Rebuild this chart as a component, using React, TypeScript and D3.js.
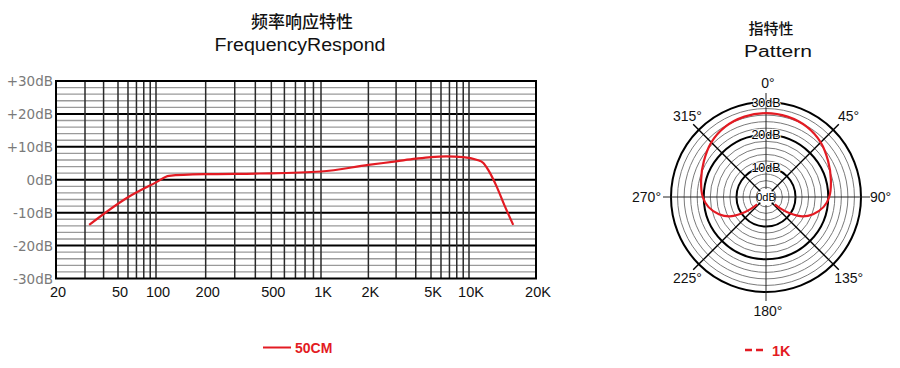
import * as d3 from 'd3';
import { useRef, useEffect } from 'react';

// frequency response (50CM)
const respFreq = [32, 60, 100, 120, 200, 425, 1000, 2000, 3000, 4000, 5000, 6600, 9000, 10800, 11600, 12200, 13300, 14500, 15800];
const respDb = [-13.7, -5.3, -0.8, 1.2, 1.7, 1.9, 2.5, 4.5, 5.6, 6.4, 6.9, 7.1, 6.9, 6.1, 5.1, 3.0, -2.0, -8.1, -13.7];

const xTickValues = [20, 50, 100, 200, 500, 1000, 2000, 5000, 10000, 20000];
const xTickLabels = ['20', '50', '100', '200', '500', '1K', '2K', '5K', '10K', '20K'];
const yTickValues = [30, 20, 10, 0, -10, -20, -30];
const yTickLabels = ['+30dB', '+20dB', '+10dB', '0dB', '-10dB', '-20dB', '-30dB'];

// polar pattern at 1K, right half (mirrored on the left)
const patternAngle = [0, 15, 30, 45, 60, 75, 90, 100, 110, 118, 124, 128, 130];
const patternDb = [26.6, 26.4, 25.8, 24.6, 22.9, 21.5, 20.3, 18.8, 16.3, 13.6, 10.0, 7.0, 4.5];

const angleLabels = [0, 45, 90, 135, 180, 225, 270, 315];
const ringLabels = [10, 20, 30];

const RED = '#e31b23';

export default function App() {
  const ref = useRef<SVGSVGElement>(null);

  useEffect(() => {
    const svg = d3.select(ref.current);
    svg.selectAll('*').remove();

    // ---------- frequency response ----------
    const x = d3.scaleLog()
      .domain([20, 30, 50, 100, 1000, 5000, 10000, 20000])
      .range([56, 85, 118, 156, 321, 431, 469, 536]);
    const y = d3.scaleLinear().domain([-30, 30]).range([278.5, 81]);

    const g = svg.append('g');

    g.append('text').attr('x', 302).attr('y', 28).attr('text-anchor', 'middle')
      .attr('font-family', 'Noto Sans CJK SC').attr('font-weight', 500).attr('font-size', 17).attr('fill', '#111')
      .text('频率响应特性');
    g.append('text').attr('x', 300).attr('y', 51).attr('text-anchor', 'middle')
      .attr('font-family', 'Liberation Sans').attr('font-size', 18).attr('fill', '#111')
      .attr('textLength', 171).attr('lengthAdjust', 'spacingAndGlyphs')
      .text('FrequencyRespond');

    // horizontal grid
    const dbLines = d3.range(-28, 30, 2);
    g.selectAll('.hminor').data(dbLines.filter(d => d % 10 !== 0)).join('line')
      .attr('x1', 56).attr('x2', 536).attr('y1', d => y(d)).attr('y2', d => y(d))
      .attr('stroke', '#9a9a9a').attr('stroke-width', 1.3);
    g.selectAll('.hmajor').data(dbLines.filter(d => d % 10 === 0)).join('line')
      .attr('x1', 56).attr('x2', 536).attr('y1', d => y(d)).attr('y2', d => y(d))
      .attr('stroke', '#000').attr('stroke-width', 2);

    // vertical grid
    const gridFreq: number[] = [];
    [10, 100, 1000].forEach(dec => {
      for (let k = 1; k <= 9; k++) {
        const f = dec * k;
        if (f > 20 && f <= 10000) gridFreq.push(f);
      }
    });
    gridFreq.push(10000);
    g.selectAll('.vgrid').data(gridFreq).join('line')
      .attr('x1', d => x(d)).attr('x2', d => x(d)).attr('y1', 81).attr('y2', 278.5)
      .attr('stroke', '#2a2a2a').attr('stroke-width', 1.5);

    g.append('rect').attr('x', 56).attr('y', 81).attr('width', 480).attr('height', 197.5)
      .attr('fill', 'none').attr('stroke', '#000').attr('stroke-width', 2);

    g.selectAll('.ylab').data(yTickValues).join('text')
      .attr('x', 53).attr('y', d => y(d) + 5).attr('text-anchor', 'end')
      .attr('font-family', 'DejaVu Sans').attr('font-size', 13.5).attr('fill', '#7a7a7a')
      .text((d, i) => yTickLabels[i]);

    g.selectAll('.xlab').data(xTickValues).join('text')
      .attr('x', d => x(d) + 2).attr('y', 297).attr('text-anchor', 'middle')
      .attr('font-family', 'Liberation Sans').attr('font-size', 14.5).attr('fill', '#111')
      .text((d, i) => xTickLabels[i]);

    const line = d3.line<number>()
      .x((d, i) => x(respFreq[i]))
      .y(d => y(d))
      .curve(d3.curveMonotoneX);
    g.append('path').datum(respDb)
      .attr('fill', 'none').attr('stroke', RED).attr('stroke-width', 2.2)
      .attr('d', line);

    g.append('line').attr('x1', 263).attr('x2', 291).attr('y1', 347.5).attr('y2', 347.5)
      .attr('stroke', RED).attr('stroke-width', 2);
    g.append('text').attr('x', 295).attr('y', 353)
      .attr('font-family', 'Liberation Sans').attr('font-weight', 'bold').attr('font-size', 14)
      .attr('fill', RED).text('50CM');

    // ---------- polar pattern ----------
    const cx = 766, cy = 197;
    const r = d3.scaleLinear().domain([10, 30]).range([29.5, 95]);
    const p = svg.append('g').attr('transform', `translate(${cx},${cy})`);

    svg.append('text').attr('x', 771).attr('y', 34).attr('text-anchor', 'middle')
      .attr('font-family', 'Noto Sans CJK SC').attr('font-weight', 500).attr('font-size', 15).attr('fill', '#111')
      .text('指特性');
    svg.append('text').attr('x', 778).attr('y', 57).attr('text-anchor', 'middle')
      .attr('font-family', 'Liberation Sans').attr('font-size', 16).attr('fill', '#111')
      .attr('textLength', 68).attr('lengthAdjust', 'spacingAndGlyphs')
      .text('Pattern');

    const rings = d3.range(4, 31, 2);
    p.selectAll('.ring').data(rings).join('circle')
      .attr('r', d => r(d)).attr('fill', 'none')
      .attr('stroke', d => d % 10 === 0 ? '#000' : '#7a7a7a')
      .attr('stroke-width', d => d % 10 === 0 ? 2 : 1);

    // axis lines
    p.append('line').attr('x1', -103).attr('x2', 104).attr('y1', 0).attr('y2', 0)
      .attr('stroke', '#222').attr('stroke-width', 1);
    p.append('line').attr('x1', 0).attr('x2', 0).attr('y1', -104).attr('y2', 104)
      .attr('stroke', '#222').attr('stroke-width', 1);
    p.selectAll('.diag').data([45, 135, 225, 315]).join('line')
      .attr('x1', 0).attr('y1', 0)
      .attr('x2', d => 103 * Math.sin(d * Math.PI / 180))
      .attr('y2', d => -103 * Math.cos(d * Math.PI / 180))
      .attr('stroke', '#000').attr('stroke-width', 1.4);

    // ring labels
    p.append('circle').attr('r', 8).attr('fill', '#fff');
    p.append('text').attr('x', 0).attr('y', 4).attr('text-anchor', 'middle')
      .attr('font-family', 'Liberation Sans').attr('font-size', 11).attr('fill', '#000')
      .text('0dB');
    p.selectAll('.rlab').data(ringLabels).join('text')
      .attr('x', 0).attr('y', d => -r(d) + 4.5).attr('text-anchor', 'middle')
      .attr('font-family', 'Liberation Sans').attr('font-size', 12.5).attr('fill', '#000')
      .attr('stroke', '#fff').attr('stroke-width', 1.5).attr('paint-order', 'stroke')
      .text(d => `${d}dB`);

    // angle labels
    p.selectAll('.alab').data(angleLabels).join('text')
      .attr('x', d => {
        if (d === 90) return 104;
        if (d === 270) return -105;
        return 114 * Math.sin(d * Math.PI / 180) + 2;
      })
      .attr('y', d => (d === 90 || d === 270) ? 5 : -114 * Math.cos(d * Math.PI / 180) + 5)
      .attr('text-anchor', d => d === 90 ? 'start' : d === 270 ? 'end' : 'middle')
      .attr('font-family', 'Liberation Sans').attr('font-size', 14).attr('fill', '#111')
      .text(d => `${d}°`);

    // pattern curve
    const angles = [...patternAngle.slice(1).reverse().map(a => -a), ...patternAngle];
    const dbs = [...patternDb.slice(1).reverse(), ...patternDb];
    const radial = d3.lineRadial<number>()
      .angle((d, i) => angles[i] * Math.PI / 180)
      .radius(d => r(d))
      .curve(d3.curveCatmullRom);
    p.append('path').datum(dbs)
      .attr('fill', 'none').attr('stroke', RED).attr('stroke-width', 2.2)
      .attr('d', radial);

    svg.append('line').attr('x1', 745).attr('x2', 763).attr('y1', 350).attr('y2', 350)
      .attr('stroke', RED).attr('stroke-width', 2.5).attr('stroke-dasharray', '7,4');
    svg.append('text').attr('x', 772).attr('y', 356)
      .attr('font-family', 'Liberation Sans').attr('font-weight', 'bold').attr('font-size', 14.5)
      .attr('fill', RED).text('1K');
  }, []);

  return (
    <svg ref={ref} width={900} height={368}
      style={{ position: 'absolute', left: 0, top: 0, background: '#fff' }} />
  );
}
